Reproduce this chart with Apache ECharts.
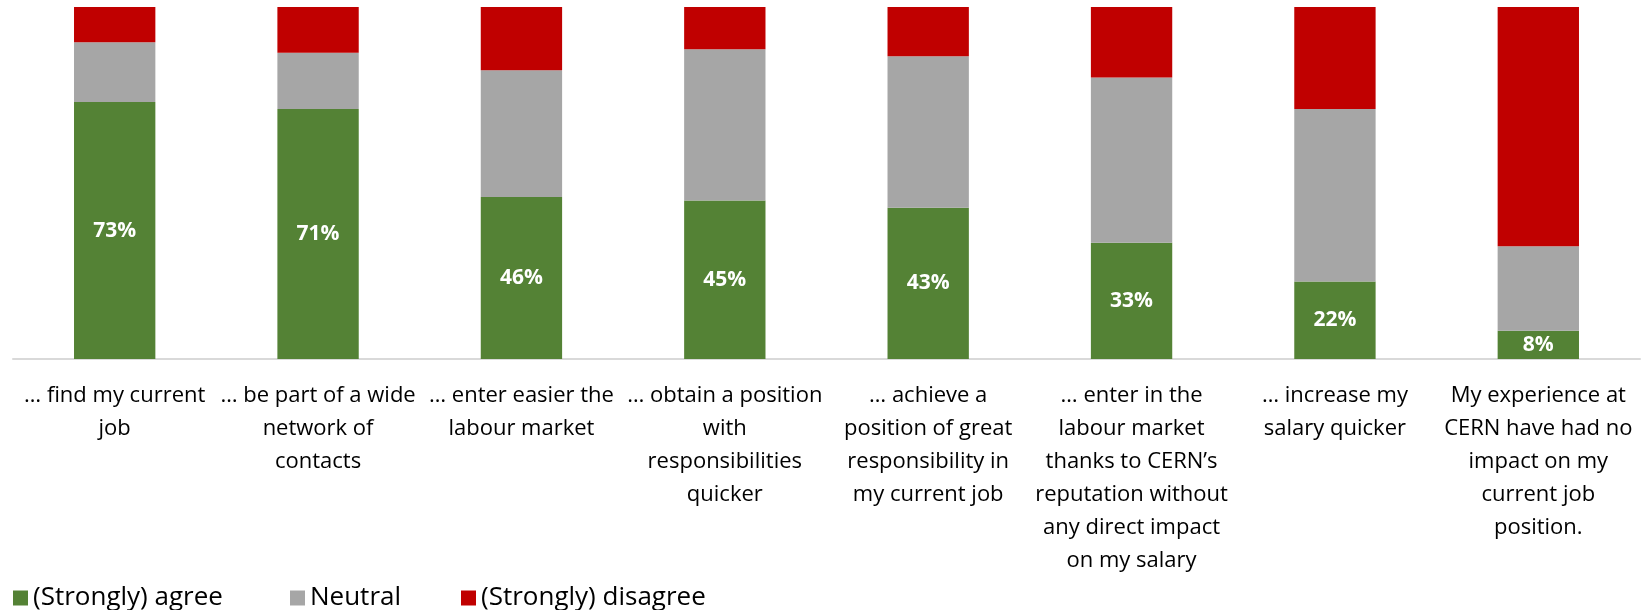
<!DOCTYPE html>
<html>
<head>
<meta charset="utf-8">
<script src="https://cdn.jsdelivr.net/npm/echarts@6/dist/echarts.min.js"></script>
<style>
html,body{margin:0;padding:0;background:#fff;}
#chart{width:1643px;height:610px;}
</style>
</head>
<body>
<div id="chart"></div>
<script>
const categories = [
  "… find my current\njob",
  "… be part of a wide\nnetwork of\ncontacts",
  "… enter easier the\nlabour market",
  "… obtain a position\nwith\nresponsibilities\nquicker",
  "… achieve a\nposition of great\nresponsibility in\nmy current job",
  "… enter in the\nlabour market\nthanks to CERN’s\nreputation without\nany direct impact\non my salary",
  "… increase my\nsalary quicker",
  "My experience at\nCERN have had no\nimpact on my\ncurrent job\nposition."
];
const agree    = [73, 71, 46, 45, 43, 33, 22, 8];
const neutral  = [17, 16, 36, 43, 43, 47, 49, 24];
const disagree = [10, 13, 18, 12, 14, 20, 29, 68];
const seriesNames = ["(Strongly) agree", "Neutral", "(Strongly) disagree"];

const FONT = '"Open Sans", sans-serif';
const legendLefts = [8, 285, 456];
const legendBase = {
  top: 580, itemWidth: 15, itemHeight: 15, icon: 'rect',
  textStyle: {fontFamily: FONT, fontSize: 26, color: '#000'}
};
const chart = echarts.init(document.getElementById('chart'), null, {renderer: 'canvas'});
chart.setOption({
  animation: false,
  textStyle: {fontFamily: FONT},
  grid: {left: 13, right: 3, top: 7, bottom: 251, containLabel: false},
  legend: seriesNames.map((n, i) => Object.assign({}, legendBase, {left: legendLefts[i], data: [n]})),
  xAxis: {
    type: 'category',
    data: categories,
    axisTick: {show: false},
    axisLine: {lineStyle: {color: '#d9d9d9', width: 2}},
    axisLabel: {interval: 0, fontFamily: FONT, fontSize: 22, lineHeight: 33, color: '#000', margin: 20, verticalAlign: 'top'}
  },
  yAxis: {type: 'value', min: 0, max: 100, show: false, splitLine: {show: false}},
  series: [
    {name: seriesNames[0], type: 'bar', stack: 's', data: agree, barWidth: '40%',
     itemStyle: {color: '#548235'},
     label: {show: true, position: 'inside', formatter: '{c}%', color: '#fff', fontWeight: 'bold', fontSize: 21, fontFamily: FONT}},
    {name: seriesNames[1], type: 'bar', stack: 's', data: neutral, itemStyle: {color: '#a6a6a6'}},
    {name: seriesNames[2], type: 'bar', stack: 's', data: disagree, itemStyle: {color: '#c00000'}}
  ]
});
</script>
</body>
</html>
